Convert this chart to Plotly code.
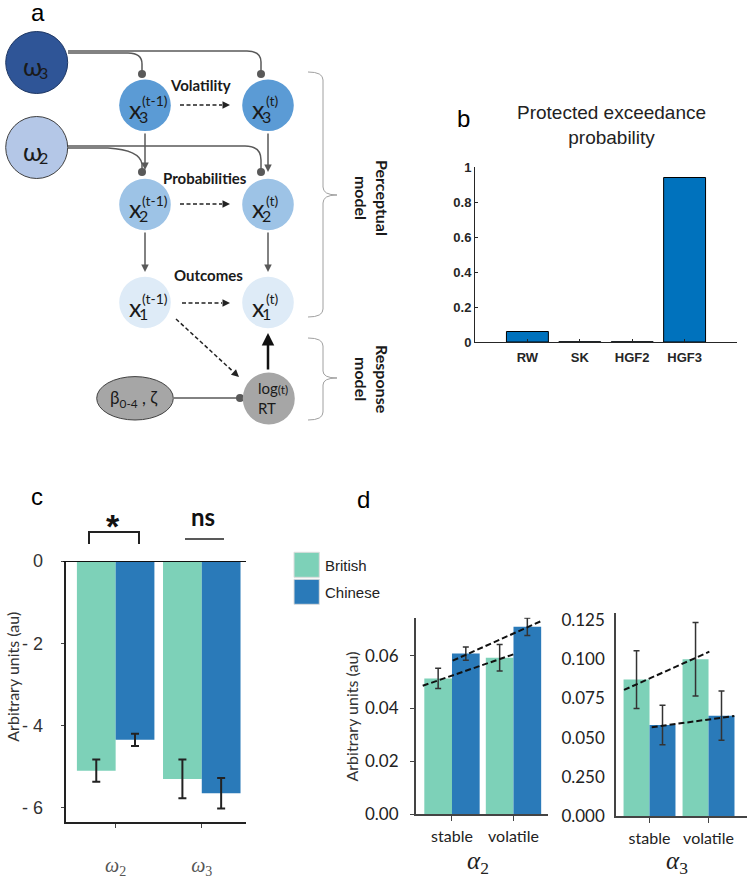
import plotly.graph_objects as go

W, H = 750, 879

# ---------------- data ----------------
# panel b
models = ["RW", "SK", "HGF2", "HGF3"]
pxp_values = [0.06, 0.001, 0.001, 0.94]
b_tick_vals = [0, 0.2, 0.4, 0.6, 0.8, 1]
b_tick_text = ["0", "0.2", "0.4", "0.6", "0.8", "1"]

# panel c
omega_params = ["ω2", "ω3"]
omega_british = [-5.10, -5.30]
omega_british_err = [0.27, 0.47]
omega_chinese = [-4.35, -5.65]
omega_chinese_err = [0.15, 0.37]
c_tick_vals = [0, -2, -4, -6]
c_tick_text = ["0", "- 2", "- 4", "- 6"]

# panel d
conditions = ["stable", "volatile"]
a2_british = [0.0514, 0.0592]
a2_british_err = [0.0038, 0.0050]
a2_chinese = [0.0608, 0.0710]
a2_chinese_err = [0.0025, 0.0033]
a3_british = [0.087, 0.100]
a3_british_err = [0.0184, 0.0234]
a3_chinese = [0.058, 0.064]
a3_chinese_err = [0.0126, 0.0157]

a2_british_trend_x = [-0.476, 0.997]
a2_british_trend_y = [0.0486, 0.0605]
a2_chinese_trend_x = [0.011, 1.458]
a2_chinese_trend_y = [0.0581, 0.0732]
a3_british_trend_x = [-0.432, 1.014]
a3_british_trend_y = [0.0804, 0.1048]
a3_chinese_trend_x = [0.037, 1.437]
a3_chinese_trend_y = [0.0566, 0.0638]

a2_tick_vals = [0, 0.02, 0.04, 0.06]
a2_tick_text = ["0.00", "0.02", "0.04", "0.06"]
a3_tick_vals = [0, 0.025, 0.05, 0.075, 0.1, 0.125]
a3_tick_text = ["0.000", "0.250", "0.050", "0.075", "0.100", "0.125"]

groups = ["British", "Chinese"]

# ---------------- styles ----------------
BRIT = "#7DD1B8"
CHIN = "#2A7AB9"
MATBLUE = "#0072BD"
LINE = "#595959"
SANS = "Liberation Sans, Arial, sans-serif"
CAL = "Lato, Open Sans, sans-serif"
SERIF = "Liberation Serif, DejaVu Serif, serif"


def px(x):
    return x / W


def py(y):
    return 1 - y / H


def path(cmds):
    out = []
    for c in cmds:
        op = c[0]
        nums = c[1:]
        pts = []
        for i in range(0, len(nums), 2):
            pts.append(f"{px(nums[i]):.5f},{py(nums[i + 1]):.5f}")
        out.append(op + " " + " ".join(pts))
    return " ".join(out)


shapes = []
annotations = []


def circle(cx, cy, rx, ry, fill, lc=None, lw=0):
    shapes.append(dict(type="circle", xref="paper", yref="paper",
                       x0=px(cx - rx), x1=px(cx + rx), y0=py(cy + ry), y1=py(cy - ry),
                       fillcolor=fill, line=dict(color=lc or fill, width=lw), layer="above"))


def text(x, y, t, size, color="#1a1a1a", family=CAL, **kw):
    annotations.append(dict(x=px(x), y=py(y), xref="paper", yref="paper", text=t,
                            showarrow=False, font=dict(size=size, color=color, family=family),
                            xanchor=kw.pop("xanchor", "center"), yanchor=kw.pop("yanchor", "middle"), **kw))


def arrow(tx, ty, hx, hy, color=LINE, width=1.5, size=1.0):
    annotations.append(dict(x=px(hx), y=py(hy), xref="paper", yref="paper",
                            ax=tx - hx, ay=ty - hy, axref="pixel", ayref="pixel",
                            text="", showarrow=True, arrowhead=2, arrowsize=size,
                            arrowwidth=width, arrowcolor=color, standoff=0, startstandoff=0))


def dashed_arrow(tx, ty, hx, hy, color="#222", width=1.5):
    dx, dy = hx - tx, hy - ty
    L = (dx * dx + dy * dy) ** 0.5
    ux, uy = dx / L, dy / L
    sx, sy = hx - ux * 8, hy - uy * 8
    shapes.append(dict(type="path", xref="paper", yref="paper",
                       path=path([("M", tx, ty), ("L", sx, sy)]),
                       line=dict(color=color, width=width, dash="4px,2.5px")))
    arrow(sx, sy, hx, hy, color=color, width=width)


def line_path(cmds, color=LINE, width=1.5):
    shapes.append(dict(type="path", xref="paper", yref="paper", path=path(cmds),
                       line=dict(color=color, width=width)))


# ---------------- panel a diagram ----------------
line_path([("M", 68, 53), ("L", 128, 53), ("Q", 142, 53, 142, 64), ("L", 142, 72)])
line_path([("M", 68, 51), ("L", 247, 51), ("Q", 261, 51, 261, 62), ("L", 261, 72)])
line_path([("M", 68, 148), ("L", 108, 148), ("Q", 140, 150, 142, 164), ("L", 142, 170)])
line_path([("M", 68, 146), ("L", 245, 146), ("Q", 261, 146, 261, 160), ("L", 261, 170)])
line_path([("M", 174, 398), ("L", 238, 398)])
for (dx_, dy_) in [(142, 74), (261, 74), (142, 172), (261, 172), (240, 398)]:
    circle(dx_, dy_, 4, 4, LINE)

circle(36.7, 62.5, 31, 31, "#2F5597", "#1F3864", 1)
circle(36.7, 147.5, 31, 31, "#B4C7E7", "#404040", 1)
node_fill = {3: "#5B9BD5", 2: "#9DC3E6", 1: "#DEEBF7"}
node_y = {3: 105.3, 2: 204.5, 1: 302.5}
for lvl in (3, 2, 1):
    for cx in (145, 268):
        circle(cx, node_y[lvl], 25.8, 25.8, node_fill[lvl])
circle(135, 398.3, 38.3, 21.7, "#A6A6A6", "#404040", 1)
circle(268.8, 398.5, 26, 26, "#A6A6A6")

for lvl in (3, 2, 1):
    cy = node_y[lvl]
    for cx, sup, supdx in ((145, "(t-1)", 9.7), (268, "(t)", 4.3)):
        text(cx - 9.3, cy + 4, "x", 25)
        text(cx - 1.6, cy + 11, str(lvl), 16)
        text(cx + supdx, cy - 4.5, sup, 14)
text(32.7, 65.5, "ω", 25)
text(43, 72.5, "3", 16)
text(32.7, 150.5, "ω", 25)
text(43, 157.5, "2", 16)
text(133, 399, "β<sub>0-4</sub> , ζ", 17)
text(256, 398, "log<span style='font-size:12px'>(t)</span><br>RT", 15, xanchor="left", align="left")

text(200, 85, "<b>Volatility</b>", 15)
text(205, 178.3, "<b>Probabilities</b>", 15)
text(208.3, 275, "<b>Outcomes</b>", 15)

arrow(145, 132, 145, 170)
arrow(268, 132, 268, 172)
arrow(145, 231, 145, 272)
arrow(268, 231, 268, 272)
arrow(268, 371, 268, 333, color="#111", width=2.5)
dashed_arrow(180, 105, 230, 105)
dashed_arrow(180, 204, 230, 204)
dashed_arrow(182, 303, 230, 303)
dashed_arrow(176, 319, 239, 377)

BR = "#A0A0A0"
line_path([("M", 308, 72), ("Q", 323, 72, 323, 80), ("L", 323, 187), ("Q", 323, 195, 337, 195),
           ("Q", 323, 195, 323, 203), ("L", 323, 309), ("Q", 323, 317, 308, 317)], color=BR, width=1)
line_path([("M", 308, 338), ("Q", 323, 338, 323, 346), ("L", 323, 371), ("Q", 323, 378, 337, 378),
           ("Q", 323, 378, 323, 385), ("L", 323, 412), ("Q", 323, 420, 308, 420)], color=BR, width=1)
text(372, 198, "<b>Perceptual<br>model</b>", 16, textangle=90)
text(372, 379, "<b>Response<br>model</b>", 16, textangle=90)

text(37.5, 12.5, "a", 24, family=SANS, color="#000")
text(463.3, 119, "b", 24, family=SANS, color="#000")
text(36.7, 496, "c", 24, family=SANS, color="#000")
text(363.3, 499, "d", 24, family=SANS, color="#000")

text(611, 125, "Protected exceedance<br>probability", 19, family=SANS, color="#222")

shapes.append(dict(type="line", xref="paper", yref="y2", x0=px(63), x1=px(246), y0=0, y1=0,
                   line=dict(color="#111", width=2)))
line_path([("M", 89, 544), ("L", 89, 532), ("L", 139, 532), ("L", 139, 544)], color="#222", width=2)
line_path([("M", 185, 539), ("L", 224, 539)], color="#222", width=1.5)
text(113.3, 526, "<b>*</b>", 34, family=SANS, color="#111")
text(203.3, 516, "<b>ns</b>", 24, color="#111")
text(11.7, 677, "Arbitrary units (au)", 16, color="#333", textangle=-90)
text(350.5, 717, "Arbitrary units (au)", 16, color="#333", textangle=-90)

for (gy, col, name) in ((552.3, BRIT, groups[0]), (579.3, CHIN, groups[1])):
    shapes.append(dict(type="rect", xref="paper", yref="paper", x0=px(294), x1=px(319.3),
                       y0=py(gy + 25), y1=py(gy), fillcolor=col, line=dict(color="#DDDDDD", width=1)))
    text(323.3, gy + 13.5, name, 15, family=SANS, color="#222", xanchor="left")

text(478.3, 862, "<i>α</i><sub>2</sub>", 25, family=SERIF, color="#222")
text(677, 862, "<i>α</i><sub>3</sub>", 25, family=SERIF, color="#222")

# ---------------- traces ----------------
fig = go.Figure()
pos2 = list(range(len(models)))
fig.add_trace(go.Bar(x=[p + 1 for p in pos2], y=pxp_values, marker=dict(color=MATBLUE, line=dict(color="#000", width=1)),
                     width=0.8, offset=-0.4, xaxis="x", yaxis="y", showlegend=False))

xc = list(range(len(omega_params)))
err_c = dict(type="data", thickness=2, width=4, color="#222")
fig.add_trace(go.Bar(x=xc, y=omega_british, width=0.45, offset=-0.45, marker=dict(color=BRIT, line=dict(width=0)),
                     error_y=dict(array=omega_british_err, **err_c), xaxis="x2", yaxis="y2", showlegend=False))
fig.add_trace(go.Bar(x=xc, y=omega_chinese, width=0.45, offset=0, marker=dict(color=CHIN, line=dict(width=0)),
                     error_y=dict(array=omega_chinese_err, **err_c), xaxis="x2", yaxis="y2", showlegend=False))

xd = list(range(len(conditions)))
err_d = dict(type="data", thickness=1.5, width=3, color="#333")
fig.add_trace(go.Bar(x=xd, y=a2_british, width=0.45, offset=-0.45, marker=dict(color=BRIT, line=dict(width=0)),
                     error_y=dict(array=a2_british_err, **err_d), xaxis="x3", yaxis="y3", showlegend=False))
fig.add_trace(go.Bar(x=xd, y=a2_chinese, width=0.45, offset=0, marker=dict(color=CHIN, line=dict(width=0)),
                     error_y=dict(array=a2_chinese_err, **err_d), xaxis="x3", yaxis="y3", showlegend=False))
fig.add_trace(go.Bar(x=xd, y=a3_british, width=0.44, offset=-0.44, marker=dict(color=BRIT, line=dict(width=0)),
                     error_y=dict(array=a3_british_err, **err_d), xaxis="x4", yaxis="y4", showlegend=False))
fig.add_trace(go.Bar(x=xd, y=a3_chinese, width=0.44, offset=0, marker=dict(color=CHIN, line=dict(width=0)),
                     error_y=dict(array=a3_chinese_err, **err_d), xaxis="x4", yaxis="y4", showlegend=False))

dline = dict(color="#111", width=2, dash="6px,3px")
for tx, ty, xa, ya in ((a2_british_trend_x, a2_british_trend_y, "x3", "y3"),
                       (a2_chinese_trend_x, a2_chinese_trend_y, "x3", "y3"),
                       (a3_british_trend_x, a3_british_trend_y, "x4", "y4"),
                       (a3_chinese_trend_x, a3_chinese_trend_y, "x4", "y4")):
    fig.add_trace(go.Scatter(x=tx, y=ty, mode="lines", line=dline, xaxis=xa, yaxis=ya,
                             showlegend=False, hoverinfo="skip"))

common = dict(showgrid=False, zeroline=False, showline=True, automargin=False)

fig.update_layout(
    width=W, height=H, margin=dict(l=0, r=0, t=0, b=0, autoexpand=False),
    paper_bgcolor="white", plot_bgcolor="rgba(0,0,0,0)",
    barmode="overlay", showlegend=False,
    shapes=shapes, annotations=annotations,
    xaxis=dict(domain=[px(475), px(737)], range=[0, 5], anchor="y", tickvals=[p + 1 for p in pos2],
               ticktext=[f"<b>{m}</b>" for m in models], ticks="inside", ticklen=3, linecolor="#262626",
               linewidth=1, tickcolor="#262626", tickfont=dict(family=SANS, size=13, color="#262626"),
               ticklabelstandoff=3, **common),
    yaxis=dict(domain=[py(342), py(167)], range=[0, 1], anchor="x", tickvals=b_tick_vals,
               ticktext=[f"<b>{t}</b>" for t in b_tick_text], ticks="inside", ticklen=3, linecolor="#262626",
               linewidth=1, tickcolor="#262626", tickfont=dict(family=SANS, size=13, color="#262626"), **common),
    xaxis2=dict(domain=[px(65.7), px(245.7)], range=[-0.58, 1.51], anchor="y2", tickvals=xc,
                ticktext=[f"<i>{p[0]}</i><sub>{p[1:]}</sub>" for p in omega_params], ticks="outside", ticklen=4,
                linecolor="#222", linewidth=2, tickcolor="#444",
                tickfont=dict(family=SERIF, size=20, color="#555"), ticklabelstandoff=20, **common),
    yaxis2=dict(domain=[py(821.7), py(561)], range=[-6.34, 0], anchor="x2", tickvals=c_tick_vals,
                ticktext=c_tick_text, ticks="outside", ticklen=3, linecolor="#222", linewidth=2, tickcolor="#444",
                tickfont=dict(family=SANS, size=18, color="#333"), ticklabelstandoff=14, **common),
    xaxis3=dict(domain=[px(415.7), px(548.3)], range=[-0.59, 1.566], anchor="y3", tickvals=xd,
                ticktext=conditions, ticks="outside", ticklen=5, linecolor="#444", linewidth=1.5, tickcolor="#444",
                tickfont=dict(family=CAL, size=16, color="#222"), ticklabelstandoff=2, **common),
    yaxis3=dict(domain=[py(814), py(617.7)], range=[0, 0.0744], anchor="x3", tickvals=a2_tick_vals,
                ticktext=a2_tick_text, ticks="outside", ticklen=4, linecolor="#444", linewidth=1.5, tickcolor="#444",
                tickfont=dict(family=CAL, size=17, color="#222"), ticklabelstandoff=8, **common),
    xaxis4=dict(domain=[px(616), px(746.7)], range=[-0.568, 1.647], anchor="y4", tickvals=xd,
                ticktext=conditions, ticks="outside", ticklen=5, linecolor="#444", linewidth=1.5, tickcolor="#444",
                tickfont=dict(family=CAL, size=16, color="#222"), ticklabelstandoff=2, **common),
    yaxis4=dict(domain=[py(816), py(613.3)], range=[0, 0.1293], anchor="x4", tickvals=a3_tick_vals,
                ticktext=a3_tick_text, ticks="", linecolor="#444", linewidth=1.5,
                tickfont=dict(family=CAL, size=17, color="#222"), ticklabelstandoff=6, **common),
)

fig.write_html("out.html", config={"displayModeBar": False},
               post_script="document.body.style.margin='0';document.body.style.overflow='hidden';")
